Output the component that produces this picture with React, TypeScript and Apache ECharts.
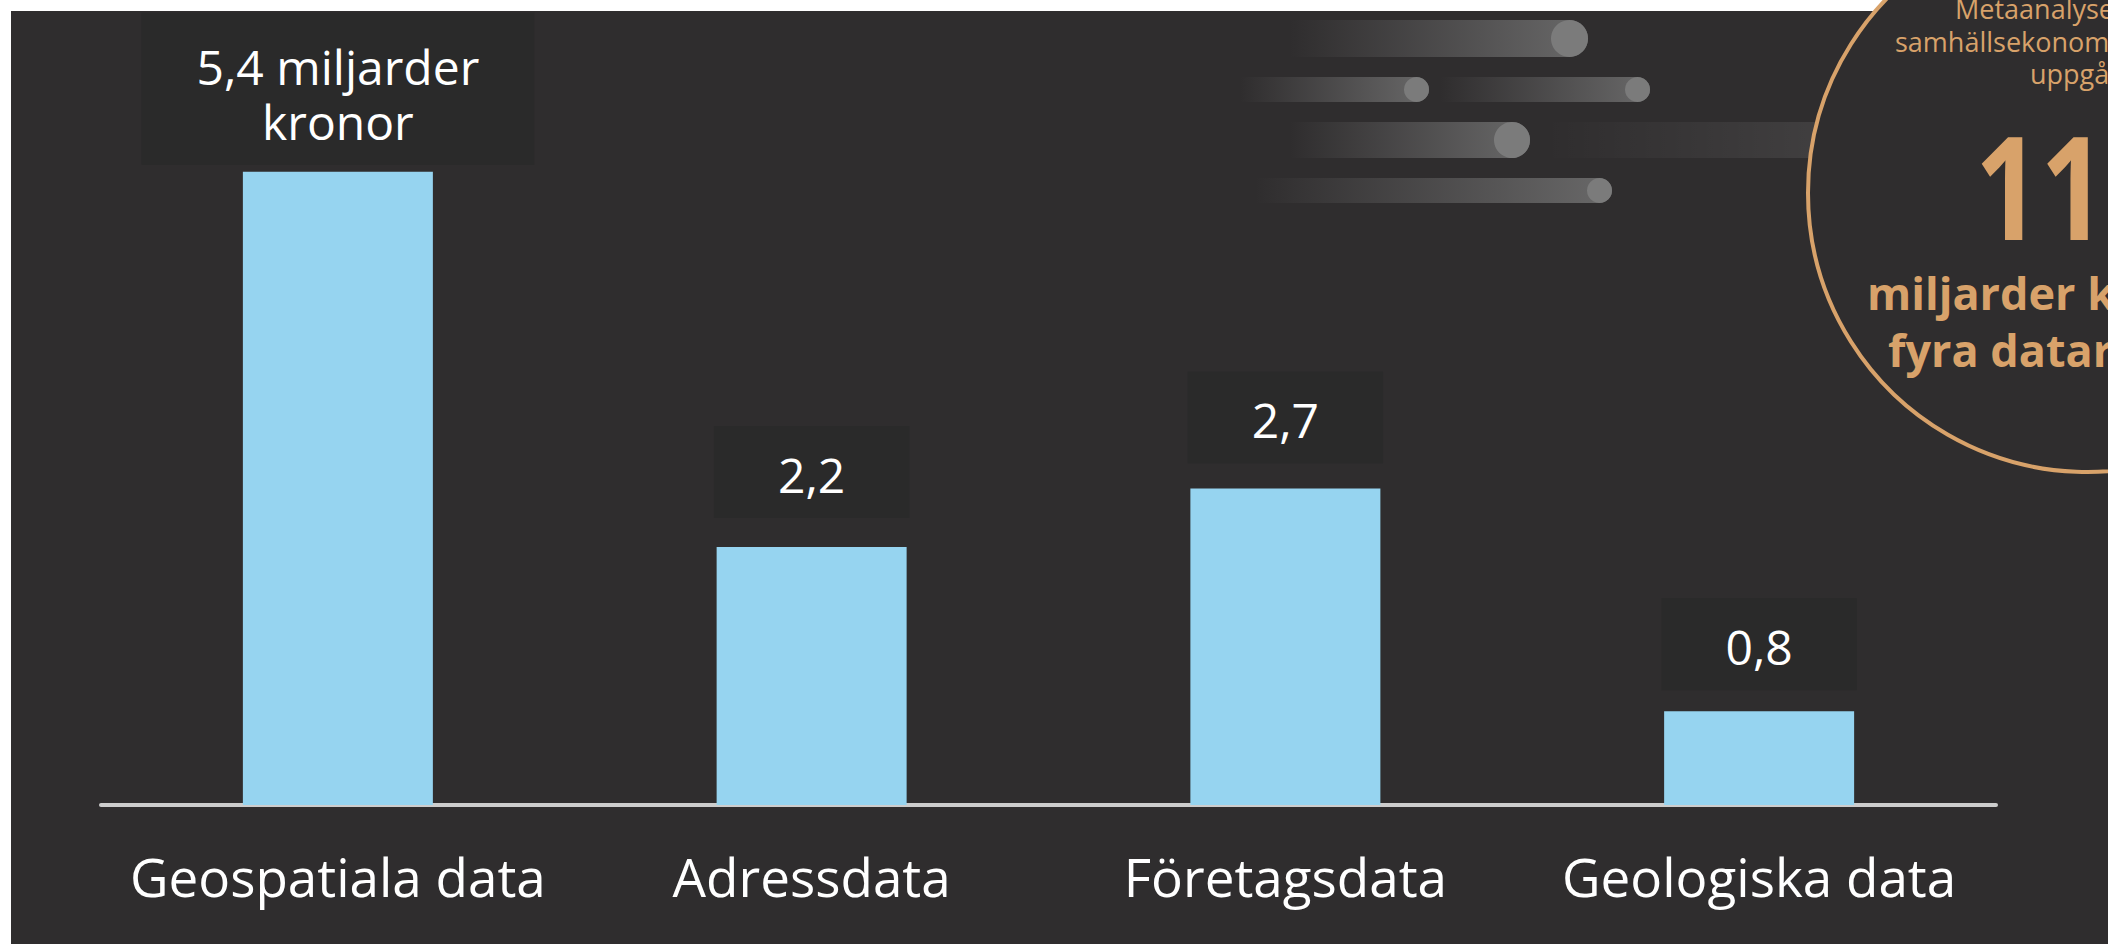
import React, { useEffect, useRef } from 'react';
import * as echarts from 'echarts';

// ---- data ----
const categories = ['Geospatiala data', 'Adressdata', 'Företagsdata', 'Geologiska data'];
const values = [5.4, 2.2, 2.7, 0.8];
const valueUnits = ['miljarder\nkronor', '', '', ''];
const circleIntroLines = ['Metaanalysen visar att', 'samhällsekonomiska nyttan', 'uppgår till'];
const totalValue = '11';
const totalLines = ['miljarder kronor för', 'fyra dataresurser'];

const BG = '#2f2d2e';
const TAN = '#d8a26a';
const BAR = '#96d4f0';
const BOX = '#2a2a2a';

function streak(x0: number, x1: number, y: number, h: number) {
  const r = h / 2;
  return [
    {
      type: 'rect',
      silent: true,
      shape: { x: x0, y, width: x1 - x0, height: h, r: [0, r, r, 0] },
      style: {
        fill: new echarts.graphic.LinearGradient(0, 0, 1, 0, [
          { offset: 0, color: 'rgba(125,125,125,0)' },
          { offset: 1, color: 'rgba(125,125,125,0.74)' },
        ]),
      },
    },
    {
      type: 'circle',
      silent: true,
      shape: { cx: x1 - r, cy: y + r, r },
      style: { fill: '#7b7b7b' },
    },
  ];
}

export default function App() {
  const ref = useRef<HTMLDivElement>(null);

  useEffect(() => {
    if (!ref.current) return;
    const chart = echarts.init(ref.current, undefined, { renderer: 'svg' });

    const elements: any[] = [
      { type: 'rect', silent: true, shape: { x: 0, y: 0, width: 2108, height: 11 }, style: { fill: '#ffffff' } },
      { type: 'rect', silent: true, shape: { x: 0, y: 0, width: 11, height: 944 }, style: { fill: '#ffffff' } },
      ...streak(1290, 1588, 20, 37),
      ...streak(1240, 1429, 77, 25),
      ...streak(1440, 1650, 77, 25),
      ...streak(1290, 1530, 122, 36),
      {
        type: 'rect',
        silent: true,
        shape: { x: 1545, y: 122, width: 290, height: 36 },
        style: {
          fill: new echarts.graphic.LinearGradient(0, 0, 1, 0, [
            { offset: 0, color: 'rgba(255,255,255,0)' },
            { offset: 1, color: 'rgba(255,255,255,0.09)' },
          ]),
        },
      },
      ...streak(1255, 1612, 178, 25),
      {
        type: 'circle',
        silent: true,
        shape: { cx: 2087, cy: 193, r: 279 },
        style: { fill: BG, stroke: TAN, lineWidth: 4 },
      },
      {
        type: 'text',
        silent: true,
        x: 1955,
        y: 8,
        style: { text: circleIntroLines[0], fill: TAN, font: "27px 'Open Sans', sans-serif", align: 'left', verticalAlign: 'middle' },
      },
      {
        type: 'text',
        silent: true,
        x: 1895,
        y: 41,
        style: { text: circleIntroLines[1], fill: TAN, font: "27px 'Open Sans', sans-serif", align: 'left', verticalAlign: 'middle' },
      },
      {
        type: 'text',
        silent: true,
        x: 2030,
        y: 73,
        style: { text: circleIntroLines[2], fill: TAN, font: "27px 'Open Sans', sans-serif", align: 'left', verticalAlign: 'middle' },
      },
      {
        type: 'text',
        silent: true,
        x: 1975,
        y: 185,
        scaleX: 0.8,
        style: {
          text: totalValue,
          fill: TAN,
          font: "bold 143px 'Open Sans', sans-serif",
          align: 'left',
          verticalAlign: 'middle',
        },
      },
      {
        type: 'text',
        silent: true,
        x: 1867,
        y: 292,
        style: { text: totalLines[0], fill: TAN, font: "bold 45px 'Open Sans', sans-serif", align: 'left', verticalAlign: 'middle' },
      },
      {
        type: 'text',
        silent: true,
        x: 1888,
        y: 349,
        style: { text: totalLines[1], fill: TAN, font: "bold 45px 'Open Sans', sans-serif", align: 'left', verticalAlign: 'middle' },
      },
    ];

    const labelGaps = [7, 29, 25, 21];

    chart.setOption({
      animation: false,
      backgroundColor: BG,
      grid: { left: 101, right: 112, top: 101.5, bottom: 139, containLabel: false },
      tooltip: { show: false },
      xAxis: {
        type: 'category',
        data: categories,
        axisTick: { show: false },
        axisLine: { show: true, lineStyle: { color: '#cdcdcd', width: 4 } },
        axisLabel: {
          color: '#ffffff',
          fontSize: 53,
          lineHeight: 53,
          margin: 45,
          fontFamily: "'Open Sans', sans-serif",
          interval: 0,
        },
      },
      yAxis: {
        type: 'value',
        min: 0,
        max: 6,
        show: false,
        splitLine: { show: false },
      },
      series: [
        {
          type: 'bar',
          barWidth: 190,
          itemStyle: { color: BAR },
          label: {
            show: true,
            position: 'top',
            color: '#ffffff',
            fontSize: 48,
            fontFamily: "'Open Sans', sans-serif",
            backgroundColor: BOX,
            formatter: (p: any) => {
              const txt = String(p.value).replace('.', ',');
              const unit = valueUnits[p.dataIndex];
              return unit ? `${txt} ${unit}` : txt;
            },
          },
          data: values.map((v, i) => ({
            value: v,
            label:
              i === 0
                ? { distance: labelGaps[i], padding: [26, 55, 16, 55], lineHeight: 55 }
                : { distance: labelGaps[i], padding: [24, 64, 20, 64], lineHeight: 48 },
          })),
        },
      ],
      graphic: { elements },
    });

    return () => chart.dispose();
  }, []);

  return (
    <div style={{ position: 'fixed', left: 0, top: 0, width: 2108, height: 944, overflow: 'hidden' }}>
      <div ref={ref} style={{ width: 2108, height: 944 }} />
    </div>
  );
}
